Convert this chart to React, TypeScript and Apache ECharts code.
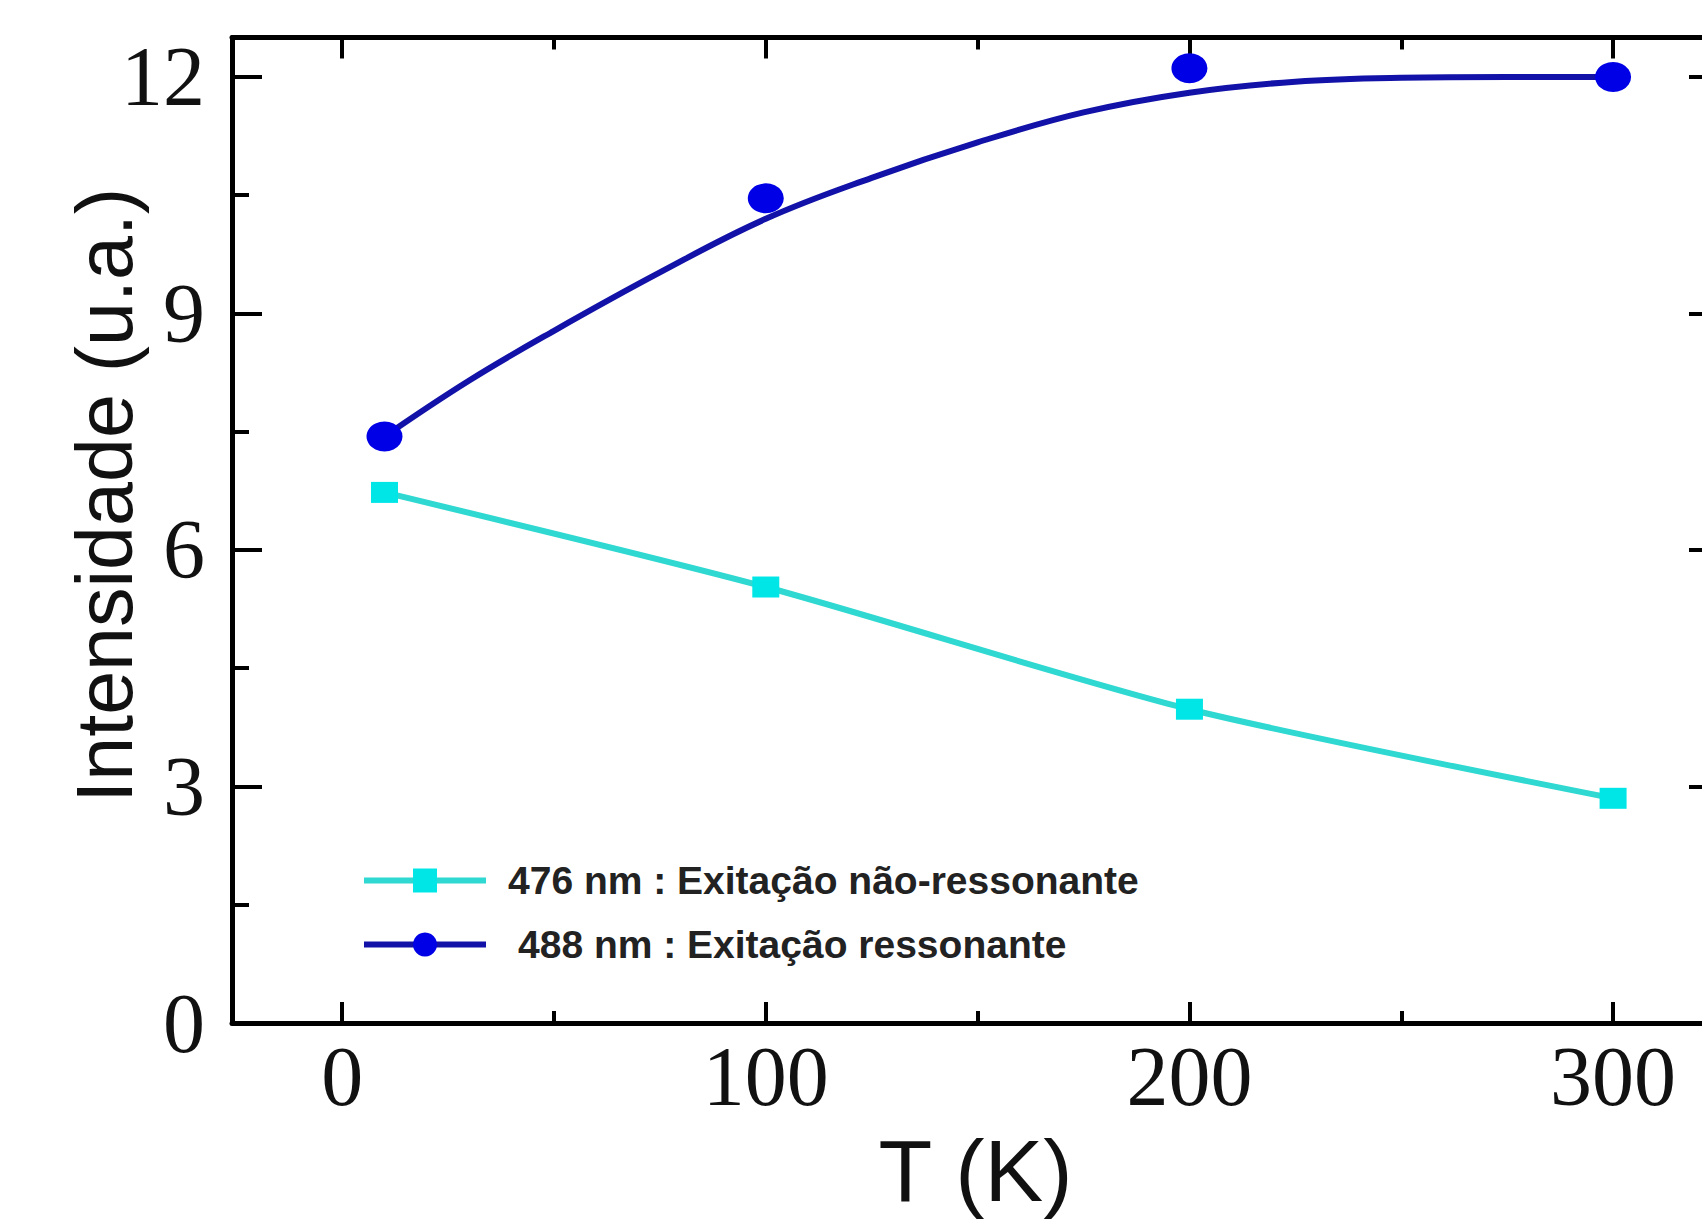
import React, { useEffect, useRef } from "react";
import * as echarts from "echarts";

const N476 = "476 nm : Exitação não-ressonante";
const N488 = "488 nm : Exitação ressonante";

const cyanT = [10, 100, 200, 300];
const cyanI = [6.73, 5.53, 3.98, 2.85];
const blueT = [10, 100, 200, 300];
const blueI = [7.44, 10.46, 12.11, 12.0];
const fitT = [10, 30, 50, 75, 100, 125, 150, 175, 200, 225, 250, 275, 300];
const fitI = [7.44, 8.15, 8.78, 9.52, 10.2, 10.72, 11.17, 11.55, 11.8, 11.94, 11.99, 12.0, 12.0];

const xMajor = [0, 100, 200, 300];
const xMinor = [50, 150, 250];
const yMajor = [0, 3, 6, 9, 12];
const yMinor = [1.5, 4.5, 7.5, 10.5];

const X_MIN = -26;
const X_MAX = 325;
const Y_MIN = 0;
const Y_MAX = 12.5;

const SERIF = "'Liberation Serif', 'Times New Roman', serif";
const SANS = "'Liberation Sans', Arial, sans-serif";

function xAx(position: string, ticks: number[], len: number, line: boolean, labels: boolean, extra: any = {}) {
  return {
    type: "value",
    position,
    min: X_MIN,
    max: X_MAX,
    axisLine: { show: line, onZero: false, lineStyle: { color: "#000", width: 5 } },
    axisTick: { show: true, inside: true, length: len, customValues: ticks, lineStyle: { color: "#000", width: 4 } },
    axisLabel: labels
      ? { show: true, customValues: ticks, margin: 11, fontFamily: SERIF, fontSize: 84, color: "#111" }
      : { show: false },
    splitLine: { show: false },
    ...extra,
  };
}

function yAx(position: string, ticks: number[], len: number, line: boolean, labels: boolean, extra: any = {}) {
  return {
    type: "value",
    position,
    min: Y_MIN,
    max: Y_MAX,
    axisLine: { show: line, onZero: false, lineStyle: { color: "#000", width: 5 } },
    axisTick: { show: true, inside: true, length: len, customValues: ticks, lineStyle: { color: "#000", width: 4 } },
    axisLabel: labels
      ? { show: true, customValues: ticks, margin: 27, fontFamily: SERIF, fontSize: 84, color: "#111" }
      : { show: false },
    splitLine: { show: false },
    ...extra,
  };
}

export default function App() {
  const ref = useRef<HTMLDivElement>(null);
  useEffect(() => {
    if (!ref.current) return;
    const chart = echarts.init(ref.current, null, { renderer: "svg", width: 1740, height: 1219 });
    const option: any = {
      animation: false,
      backgroundColor: "#fff",
      grid: { left: 232, top: 37.5, width: 1487, height: 997.5, containLabel: false },
      legend: {
        show: true,
        orient: "vertical",
        left: 356,
        top: 856,
        itemWidth: 122,
        itemHeight: 30,
        itemGap: 25,
        selectedMode: false,
        lineStyle: { width: 6 },
        data: [
          { name: N476, textStyle: { padding: [0, 0, 0, 17] } },
          { name: N488, textStyle: { padding: [0, 0, 0, 27] } },
        ],
        textStyle: { fontFamily: SANS, fontWeight: "bold", fontSize: 39, color: "#222", lineHeight: 30 },
      },
      xAxis: [
        xAx("bottom", xMajor, 21, true, true, {
          name: "T (K)",
          nameLocation: "middle",
          nameGap: 103,
          nameMoveOverlap: false,
          nameTextStyle: { fontFamily: SANS, fontSize: 88, color: "#111" },
        }),
        xAx("bottom", xMinor, 12, false, false),
        xAx("top", xMajor, 21, true, false),
        xAx("top", xMinor, 12, false, false),
      ],
      yAxis: [
        yAx("left", yMajor, 30, true, true, {
          name: "Intensidade (u.a.)",
          nameLocation: "middle",
          nameGap: 88,
          nameMoveOverlap: false,
          nameTextStyle: { fontFamily: SANS, fontSize: 79, color: "#111", padding: [0, 0, 0, 70] },
        }),
        yAx("left", yMinor, 17, false, false),
        yAx("right", yMajor, 30, true, false),
        yAx("right", yMinor, 17, false, false),
      ],
      series: [
        {
          name: N476,
          type: "line",
          xAxisIndex: 0,
          yAxisIndex: 0,
          data: cyanT.map((t, i) => [t, cyanI[i]]),
          smooth: 0.25,
          symbol: "rect",
          symbolSize: [27, 21],
          showSymbol: true,
          lineStyle: { color: "#2fd8d0", width: 6 },
          itemStyle: { color: "#00e6e6", opacity: 1 },
          z: 3,
        },
        {
          name: N488,
          type: "line",
          xAxisIndex: 0,
          yAxisIndex: 0,
          data: fitT.map((t, i) => [t, fitI[i]]),
          smooth: 0.4,
          symbol: "circle",
          showSymbol: false,
          lineStyle: { color: "#1212a8", width: 6 },
          itemStyle: { color: "#0000e6", opacity: 1 },
          z: 3,
        },
        {
          name: N488,
          type: "scatter",
          xAxisIndex: 0,
          yAxisIndex: 0,
          data: blueT.map((t, i) => [t, blueI[i]]),
          symbol: "circle",
          symbolSize: [36, 30],
          itemStyle: { color: "#0000e6", opacity: 1 },
          z: 4,
        },
      ],
    };
    chart.setOption(option);
    return () => chart.dispose();
  }, []);
  return (
    <div style={{ position: "absolute", left: 0, top: 0, width: 1702, height: 1219, overflow: "hidden", background: "#fff" }}>
      <div ref={ref} style={{ width: 1740, height: 1219 }} />
    </div>
  );
}
